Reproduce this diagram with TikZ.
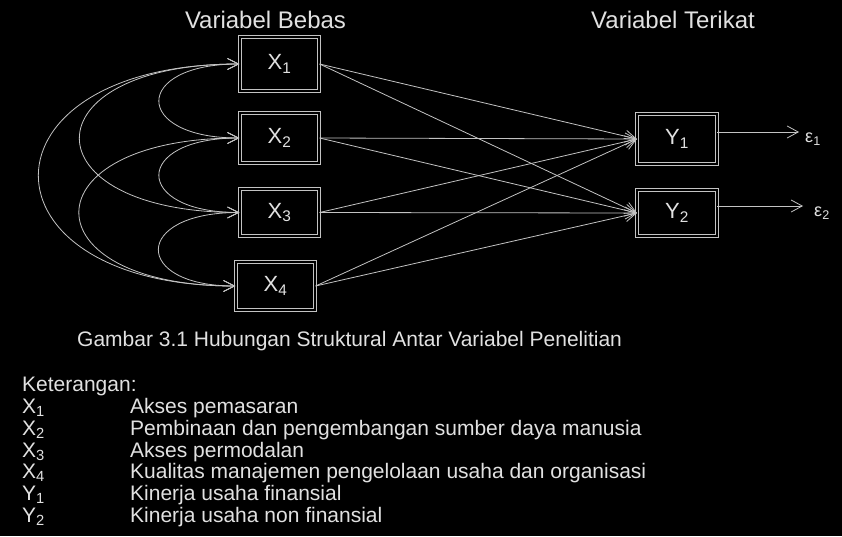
\documentclass[tikz,border=0pt]{standalone}
\usepackage{fontspec}
\setmainfont{Liberation Sans}
\usetikzlibrary{arrows.meta}
\definecolor{linec}{RGB}{195,195,195}
\definecolor{textc}{RGB}{225,225,225}
\begin{document}
\begin{tikzpicture}[x=1pt,y=-1pt,
  varbox/.style={draw=linec, line width=0.7pt, double=black, double distance=2.2pt, inner sep=0pt, text=textc, font=\fontsize{22}{24}\selectfont, minimum width=79.5pt},
  conn/.style={draw=linec, line width=0.8pt, -{Straight Barb[length=11pt,width=12pt]}},
  corr/.style={draw=linec, line width=0.8pt, {Straight Barb[length=11pt,width=11pt]}-{Straight Barb[length=11pt,width=11pt]}},
  hdr/.style={text=textc, font=\fontsize{24}{26}\selectfont, anchor=base, inner sep=0pt},
  txt/.style={text=textc, font=\fontsize{21}{23}\selectfont, anchor=base west, inner sep=0pt},
  errlab/.style={text=textc, font=\fontsize{18}{20}\selectfont, inner sep=0pt},
]
\fill[black] (0,0) rectangle (842,536);
\useasboundingbox (0,0) rectangle (842,536);

% headers
\node[hdr] (hb) at (265.5,28) {Variabel Bebas};
\node[hdr] (ht) at (673,28) {Variabel Terikat};

% boxes
\node[varbox, minimum height=54.5pt] (X1) at (279.5,64) {X\textsubscript{1}};
\node[varbox, minimum height=50.5pt] (X2) at (279.5,138) {X\textsubscript{2}};
\node[varbox, minimum height=47.5pt] (X3) at (279.5,212.5) {X\textsubscript{3}};
\node[varbox, minimum height=48.5pt] (X4) at (275.5,286) {X\textsubscript{4}};
\node[varbox, minimum height=50.5pt] (Y1) at (677,139) {Y\textsubscript{1}};
\node[varbox, minimum height=46.5pt] (Y2) at (677,213) {Y\textsubscript{2}};

% paths X -> Y
\foreach \s in {X1,X2,X3,X4}{
  \draw[conn] (\s.east) -- (Y1.west);
  \draw[conn] (\s.east) -- (Y2.west);
}

% error terms
\coordinate (t1) at (799,132);
\coordinate (t2) at (803,206);
\draw[conn] ([yshift=7pt]Y1.east) -- (t1);
\draw[conn] ([yshift=7pt]Y2.east) -- (t2);
\node[errlab] (e1) at (813,139) {ε\textsubscript{1}};
\node[errlab] (e2) at (822,213) {ε\textsubscript{2}};

% correlations
\draw[corr] (X1.west) .. controls +(-107,0) and +(-107,0) .. (X2.west);
\draw[corr] (X2.west) .. controls +(-107,0) and +(-107,0) .. (X3.west);
\draw[corr] (X3.west) .. controls +(-107,0) and +(-103,0) .. (X4.west);
\draw[corr] (X1.west) .. controls +(-213,0) and +(-213,0) .. (X3.west);
\draw[corr] (X2.west) .. controls +(-213,0) and +(-209,0) .. (X4.west);
\draw[corr] (X1.west) .. controls +(-267,0) and +(-263,0) .. (X4.west);

% caption
\node[txt] (cap) at (77,346) {Gambar 3.1 Hubungan Struktural Antar Variabel Penelitian};

% legend
\node[txt] (ket) at (22,391) {Keterangan:};
\node[txt] (l1) at (22,413.7) {X\textsubscript{1}};
\node[txt] (d1) at (130,413.7) {Akses pemasaran};
\node[txt] (l2) at (22,435.4) {X\textsubscript{2}};
\node[txt] (d2) at (130,435.4) {Pembinaan dan pengembangan sumber daya manusia};
\node[txt] (l3) at (22,457.1) {X\textsubscript{3}};
\node[txt] (d3) at (130,457.1) {Akses permodalan};
\node[txt] (l4) at (22,478.8) {X\textsubscript{4}};
\node[txt] (d4) at (130,478.8) {Kualitas manajemen pengelolaan usaha dan organisasi};
\node[txt] (l5) at (22,500.5) {Y\textsubscript{1}};
\node[txt] (d5) at (130,500.5) {Kinerja usaha finansial};
\node[txt] (l6) at (22,522.2) {Y\textsubscript{2}};
\node[txt] (d6) at (130,522.2) {Kinerja usaha non finansial};
\end{tikzpicture}
\end{document}
